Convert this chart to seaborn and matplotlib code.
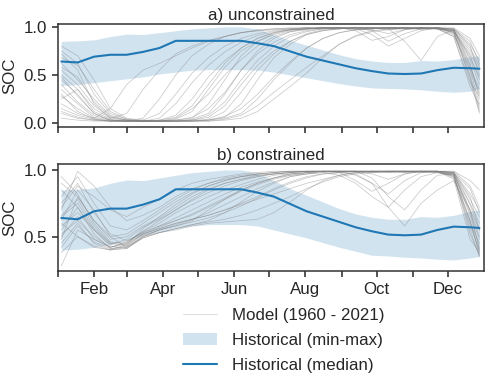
import numpy as np
import pandas as pd
import matplotlib
matplotlib.use("Agg")
import matplotlib.pyplot as plt
from matplotlib.lines import Line2D
from matplotlib.patches import Patch
import seaborn as sns

# day of year of the sampled points (roughly fortnightly)
doy = [3, 17, 31, 45, 59, 73, 87, 101, 115, 129, 143, 157, 171, 185,
       199, 213, 227, 241, 255, 269, 283, 297, 311, 325, 339, 353, 361]

# historical median and min-max envelope
hist_median = [0.64, 0.63, 0.69, 0.71, 0.71, 0.74, 0.78, 0.855, 0.855, 0.855,
               0.855, 0.855, 0.83, 0.80, 0.745, 0.69, 0.65, 0.61, 0.57, 0.54,
               0.515, 0.51, 0.515, 0.55, 0.575, 0.57, 0.565]
hist_max = [0.85, 0.855, 0.865, 0.90, 0.925, 0.92, 0.94, 0.96, 0.98, 0.99,
            1.0, 1.0, 0.98, 0.92, 0.86, 0.81, 0.76, 0.71, 0.67, 0.645,
            0.63, 0.63, 0.65, 0.645, 0.66, 0.69, 0.70]
hist_min_a = [0.39, 0.40, 0.42, 0.44, 0.46, 0.48, 0.51, 0.53, 0.55, 0.555,
              0.555, 0.555, 0.55, 0.53, 0.50, 0.47, 0.44, 0.41, 0.385, 0.365,
              0.36, 0.355, 0.345, 0.33, 0.32, 0.33, 0.36]
hist_min_b = [0.40, 0.405, 0.42, 0.44, 0.47, 0.51, 0.535, 0.56, 0.58, 0.59,
              0.59, 0.59, 0.58, 0.55, 0.52, 0.49, 0.455, 0.42, 0.39, 0.36,
              0.355, 0.345, 0.34, 0.33, 0.325, 0.34, 0.35]

# model runs, unconstrained
model_a = [
    [0.72, 0.55, 0.20, 0.05, 0.03, 0.02, 0.02, 0.03, 0.05, 0.20, 0.45, 0.70, 0.85, 0.93, 0.97, 0.98, 0.99, 0.99, 0.99, 0.98, 0.99, 0.99, 0.99, 0.98, 0.95, 0.70, 0.45],
    [0.45, 0.30, 0.10, 0.03, 0.02, 0.02, 0.02, 0.02, 0.04, 0.10, 0.30, 0.55, 0.75, 0.88, 0.95, 0.98, 0.99, 0.99, 0.98, 0.99, 0.99, 0.98, 0.99, 0.99, 0.97, 0.60, 0.30],
    [0.30, 0.12, 0.04, 0.02, 0.02, 0.05, 0.25, 0.50, 0.70, 0.82, 0.90, 0.94, 0.96, 0.97, 0.98, 0.99, 0.99, 0.98, 0.99, 0.97, 0.93, 0.97, 0.99, 0.98, 0.92, 0.55, 0.20],
    [0.80, 0.70, 0.45, 0.15, 0.05, 0.03, 0.02, 0.02, 0.03, 0.03, 0.06, 0.20, 0.45, 0.68, 0.82, 0.92, 0.96, 0.98, 0.99, 0.99, 0.99, 0.99, 0.98, 0.99, 0.98, 0.85, 0.62],
    [0.10, 0.05, 0.03, 0.02, 0.02, 0.02, 0.03, 0.08, 0.25, 0.48, 0.65, 0.78, 0.88, 0.94, 0.97, 0.98, 0.99, 0.99, 0.99, 0.96, 0.85, 0.93, 0.98, 0.99, 0.94, 0.50, 0.15],
    [0.55, 0.40, 0.18, 0.06, 0.03, 0.02, 0.02, 0.02, 0.02, 0.03, 0.05, 0.10, 0.25, 0.45, 0.62, 0.78, 0.88, 0.94, 0.97, 0.98, 0.99, 0.99, 0.99, 0.98, 0.96, 0.75, 0.58],
    [0.25, 0.35, 0.15, 0.05, 0.10, 0.35, 0.55, 0.72, 0.80, 0.86, 0.90, 0.94, 0.96, 0.98, 0.98, 0.99, 0.99, 0.99, 0.97, 0.98, 0.99, 0.99, 0.97, 0.98, 0.90, 0.42, 0.28],
    [0.62, 0.45, 0.25, 0.08, 0.03, 0.02, 0.02, 0.04, 0.12, 0.35, 0.58, 0.75, 0.85, 0.92, 0.96, 0.98, 0.99, 0.99, 0.99, 0.99, 0.97, 0.99, 0.99, 0.99, 0.98, 0.80, 0.50],
    [0.35, 0.20, 0.06, 0.03, 0.02, 0.02, 0.02, 0.02, 0.03, 0.06, 0.18, 0.40, 0.60, 0.75, 0.85, 0.92, 0.96, 0.98, 0.99, 0.99, 0.99, 0.98, 0.99, 0.98, 0.96, 0.66, 0.40],
    [0.15, 0.08, 0.04, 0.02, 0.02, 0.03, 0.10, 0.30, 0.52, 0.68, 0.80, 0.88, 0.93, 0.96, 0.98, 0.99, 0.98, 0.99, 0.99, 0.98, 0.99, 0.99, 0.98, 0.99, 0.93, 0.48, 0.12],
    [0.68, 0.60, 0.35, 0.12, 0.04, 0.02, 0.02, 0.02, 0.02, 0.04, 0.12, 0.32, 0.55, 0.72, 0.85, 0.93, 0.97, 0.98, 0.99, 0.99, 0.99, 0.99, 0.99, 0.99, 0.99, 0.88, 0.70],
    [0.40, 0.22, 0.08, 0.03, 0.02, 0.02, 0.03, 0.06, 0.18, 0.40, 0.62, 0.78, 0.88, 0.94, 0.97, 0.98, 0.99, 0.99, 0.98, 0.92, 0.80, 0.88, 0.96, 0.99, 0.95, 0.58, 0.35],
    [0.05, 0.03, 0.02, 0.02, 0.02, 0.02, 0.02, 0.02, 0.02, 0.02, 0.04, 0.08, 0.18, 0.32, 0.45, 0.58, 0.70, 0.82, 0.90, 0.95, 0.97, 0.98, 0.99, 0.98, 0.96, 0.72, 0.55],
    [0.50, 0.35, 0.12, 0.04, 0.02, 0.02, 0.02, 0.03, 0.06, 0.15, 0.32, 0.55, 0.72, 0.84, 0.92, 0.96, 0.98, 0.99, 0.99, 0.99, 0.98, 0.85, 0.65, 0.90, 0.97, 0.62, 0.25],
    [0.20, 0.10, 0.05, 0.15, 0.40, 0.55, 0.62, 0.70, 0.78, 0.85, 0.90, 0.94, 0.97, 0.98, 0.99, 0.99, 0.99, 0.98, 0.99, 0.99, 0.99, 0.98, 0.99, 0.99, 0.94, 0.55, 0.32],
    [0.75, 0.62, 0.30, 0.10, 0.04, 0.02, 0.02, 0.02, 0.02, 0.02, 0.03, 0.05, 0.12, 0.25, 0.38, 0.52, 0.68, 0.82, 0.91, 0.96, 0.98, 0.99, 0.98, 0.99, 0.97, 0.78, 0.60],
    [0.28, 0.15, 0.05, 0.02, 0.02, 0.02, 0.02, 0.05, 0.15, 0.30, 0.50, 0.66, 0.80, 0.90, 0.95, 0.97, 0.99, 0.99, 0.99, 0.99, 0.99, 0.99, 0.98, 0.99, 0.96, 0.45, 0.10],
    [0.58, 0.48, 0.22, 0.07, 0.03, 0.02, 0.02, 0.02, 0.03, 0.08, 0.22, 0.45, 0.65, 0.80, 0.90, 0.95, 0.98, 0.99, 0.96, 0.86, 0.90, 0.97, 0.99, 0.99, 0.97, 0.68, 0.48],
    [0.12, 0.06, 0.03, 0.02, 0.02, 0.02, 0.05, 0.20, 0.42, 0.60, 0.74, 0.84, 0.91, 0.95, 0.97, 0.98, 0.99, 0.99, 0.99, 0.99, 0.98, 0.99, 0.99, 0.98, 0.90, 0.38, 0.18],
    [0.48, 0.28, 0.10, 0.03, 0.02, 0.02, 0.02, 0.02, 0.02, 0.03, 0.07, 0.15, 0.30, 0.48, 0.64, 0.78, 0.88, 0.94, 0.97, 0.98, 0.99, 0.99, 0.99, 0.99, 0.98, 0.82, 0.65],
]

# model runs, constrained
model_b = [
    [0.62, 0.85, 0.70, 0.50, 0.42, 0.50, 0.55, 0.58, 0.62, 0.70, 0.78, 0.85, 0.90, 0.94, 0.97, 0.98, 0.99, 0.99, 0.99, 0.98, 0.99, 0.99, 0.99, 0.99, 0.97, 0.70, 0.40],
    [0.45, 0.60, 0.45, 0.40, 0.41, 0.50, 0.53, 0.56, 0.59, 0.62, 0.68, 0.76, 0.84, 0.90, 0.95, 0.97, 0.99, 0.99, 0.99, 0.99, 0.99, 0.98, 0.99, 0.99, 0.98, 0.80, 0.55],
    [0.80, 0.95, 0.75, 0.58, 0.55, 0.62, 0.70, 0.78, 0.85, 0.90, 0.94, 0.96, 0.97, 0.98, 0.99, 0.99, 0.99, 0.98, 0.97, 0.90, 0.82, 0.92, 0.98, 0.99, 0.95, 0.62, 0.36],
    [0.28, 0.55, 0.48, 0.42, 0.45, 0.52, 0.56, 0.60, 0.63, 0.66, 0.70, 0.75, 0.80, 0.86, 0.91, 0.95, 0.97, 0.98, 0.99, 0.99, 0.99, 0.99, 0.98, 0.99, 0.98, 0.86, 0.68],
    [0.70, 0.99, 0.88, 0.72, 0.62, 0.66, 0.72, 0.80, 0.86, 0.90, 0.93, 0.95, 0.97, 0.98, 0.99, 0.99, 0.99, 0.99, 0.98, 0.99, 0.99, 0.99, 0.99, 0.98, 0.96, 0.55, 0.35],
    [0.55, 0.72, 0.52, 0.41, 0.42, 0.49, 0.53, 0.55, 0.58, 0.60, 0.61, 0.62, 0.63, 0.68, 0.76, 0.85, 0.92, 0.96, 0.98, 0.99, 0.99, 0.99, 0.99, 0.99, 0.98, 0.75, 0.60],
    [0.90, 0.80, 0.62, 0.48, 0.50, 0.58, 0.64, 0.72, 0.80, 0.86, 0.90, 0.93, 0.95, 0.97, 0.98, 0.99, 0.99, 0.99, 0.99, 0.98, 0.99, 0.99, 0.99, 0.99, 0.93, 0.48, 0.38],
    [0.50, 0.65, 0.48, 0.42, 0.46, 0.54, 0.60, 0.68, 0.74, 0.80, 0.85, 0.89, 0.93, 0.96, 0.97, 0.98, 0.99, 0.99, 0.99, 0.94, 0.80, 0.70, 0.85, 0.96, 0.97, 0.70, 0.50],
    [0.66, 0.78, 0.58, 0.45, 0.43, 0.51, 0.55, 0.58, 0.61, 0.64, 0.68, 0.73, 0.79, 0.85, 0.90, 0.94, 0.97, 0.98, 0.99, 0.99, 0.98, 0.99, 0.99, 0.99, 0.99, 0.88, 0.72],
    [0.38, 0.50, 0.42, 0.40, 0.44, 0.56, 0.65, 0.74, 0.82, 0.88, 0.92, 0.95, 0.97, 0.98, 0.99, 0.99, 0.99, 0.99, 0.99, 0.99, 0.99, 0.98, 0.99, 0.99, 0.95, 0.60, 0.45],
    [0.75, 0.90, 0.68, 0.52, 0.47, 0.53, 0.58, 0.62, 0.66, 0.72, 0.78, 0.84, 0.89, 0.93, 0.96, 0.98, 0.99, 0.99, 0.96, 0.90, 0.72, 0.58, 0.75, 0.85, 0.92, 0.70, 0.55],
    [0.58, 0.68, 0.55, 0.44, 0.48, 0.57, 0.63, 0.70, 0.77, 0.83, 0.88, 0.92, 0.95, 0.97, 0.98, 0.99, 0.99, 0.99, 0.99, 0.99, 0.99, 0.99, 0.99, 0.99, 0.98, 0.78, 0.65],
    [0.85, 0.72, 0.55, 0.43, 0.41, 0.49, 0.53, 0.56, 0.59, 0.61, 0.63, 0.66, 0.70, 0.75, 0.80, 0.86, 0.91, 0.95, 0.97, 0.98, 0.99, 0.99, 0.99, 0.98, 0.97, 0.66, 0.42],
    [0.48, 0.80, 0.62, 0.50, 0.52, 0.60, 0.68, 0.76, 0.83, 0.88, 0.92, 0.95, 0.96, 0.97, 0.98, 0.99, 0.99, 0.98, 0.92, 0.84, 0.90, 0.97, 0.99, 0.99, 0.96, 0.52, 0.36],
    [0.60, 0.50, 0.43, 0.40, 0.42, 0.50, 0.55, 0.59, 0.63, 0.68, 0.74, 0.80, 0.86, 0.91, 0.95, 0.97, 0.98, 0.99, 0.99, 0.99, 0.99, 0.99, 0.99, 0.99, 0.99, 0.92, 0.85],
    [0.72, 0.88, 0.80, 0.70, 0.65, 0.72, 0.78, 0.85, 0.90, 0.93, 0.95, 0.97, 0.98, 0.99, 0.99, 0.99, 0.99, 0.99, 0.99, 0.99, 0.98, 0.99, 0.99, 0.99, 0.94, 0.58, 0.40],
    [0.42, 0.58, 0.46, 0.41, 0.43, 0.52, 0.57, 0.62, 0.67, 0.73, 0.79, 0.85, 0.90, 0.94, 0.97, 0.98, 0.99, 0.99, 0.99, 0.97, 0.93, 0.97, 0.99, 0.99, 0.97, 0.74, 0.55],
    [0.95, 0.82, 0.60, 0.46, 0.44, 0.52, 0.56, 0.60, 0.63, 0.66, 0.70, 0.74, 0.78, 0.82, 0.86, 0.90, 0.93, 0.96, 0.98, 0.99, 0.99, 0.99, 0.98, 0.99, 0.98, 0.82, 0.70],
    [0.52, 0.62, 0.50, 0.42, 0.45, 0.54, 0.62, 0.70, 0.78, 0.85, 0.90, 0.93, 0.96, 0.97, 0.98, 0.99, 0.99, 0.99, 0.99, 0.99, 0.99, 0.99, 0.99, 0.98, 0.96, 0.62, 0.38],
    [0.65, 0.75, 0.56, 0.45, 0.46, 0.53, 0.58, 0.64, 0.70, 0.76, 0.82, 0.87, 0.91, 0.94, 0.96, 0.97, 0.98, 0.96, 0.90, 0.80, 0.72, 0.85, 0.95, 0.98, 0.97, 0.68, 0.48],
]

month_start = [0, 31, 59, 90, 120, 151, 181, 212, 243, 273, 304, 334]
month_label = ["", "Feb", "", "Apr", "", "Jun", "", "Aug", "", "Oct", "", "Dec"]


def to_long(runs):
    rows = []
    for i, run in enumerate(runs):
        for d, v in zip(doy, run):
            rows.append({"run": i, "doy": d, "soc": v})
    return pd.DataFrame(rows)


sns.set_theme(style="ticks")
plt.rcParams["font.family"] = ["Liberation Sans", "DejaVu Sans"]
plt.rcParams["font.size"] = 12.2

blue = "#1f77b4"
fig = plt.figure(figsize=(4.94, 3.81), dpi=100)
ax_a = fig.add_axes([0.117, 0.667, 0.863, 0.27])
ax_b = fig.add_axes([0.117, 0.289, 0.863, 0.28])

panels = [
    (ax_a, model_a, hist_min_a, "a) unconstrained", (-0.04, 1.03), [0.0, 0.5, 1.0]),
    (ax_b, model_b, hist_min_b, "b) constrained", (0.243, 1.043), [0.5, 1.0]),
]

for ax, runs, lo, title, ylim, yticks in panels:
    ax.fill_between(doy, lo, hist_max, color=blue, alpha=0.2, linewidth=0, zorder=1)
    sns.lineplot(data=to_long(runs), x="doy", y="soc", units="run", estimator=None,
                 color="grey", alpha=0.42, linewidth=0.55, ax=ax, zorder=2)
    sns.lineplot(x=doy, y=hist_median, color=blue, linewidth=1.5, ax=ax, zorder=3)
    ax.set_xlim(0, 365)
    ax.set_ylim(*ylim)
    ax.set_yticks(yticks)
    ax.set_xticks(month_start)
    ax.set_ylabel("SOC", fontsize=12.2)
    ax.set_xlabel("")
    ax.set_title(title, fontsize=12.2, pad=3)
    ax.tick_params(labelsize=12.2, length=4.5, width=1.1, color=".15")
    for sp in ax.spines.values():
        sp.set_color(".2")
        sp.set_linewidth(1.1)

ax_a.set_xticklabels([])
ax_b.set_xticklabels(month_label)

handles = [
    Line2D([], [], color="grey", alpha=0.3, linewidth=0.6),
    Patch(facecolor=blue, alpha=0.2, linewidth=0),
    Line2D([], [], color=blue, linewidth=1.5),
]
labels = ["Model (1960 - 2021)", "Historical (min-max)", "Historical (median)"]
fig.legend(handles, labels, loc="upper left", bbox_to_anchor=(0.356, 0.210),
           borderaxespad=0, frameon=False, fontsize=12.2, handlelength=2.0,
           handletextpad=0.9, labelspacing=0.6)

fig.savefig("out.png", dpi=100)
